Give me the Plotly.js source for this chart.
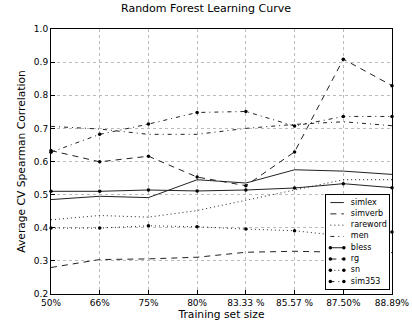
<!DOCTYPE html>
<html>
<head>
<meta charset="utf-8">
<script src="https://cdn.plot.ly/plotly-3.0.1.min.js"></script>
<style>html,body{margin:0;padding:0;background:#fff;}#chart{width:412px;height:328px;}</style>
</head>
<body>
<div id="chart"></div>
<script>
var categories = ["50%", "66%", "75%", "80%", "83.33 %", "85.57 %", "87.50%", "88.89%"];
var simlex   = [0.485, 0.495, 0.491, 0.545, 0.535, 0.575, 0.571, 0.561];
var simverb  = [0.280, 0.304, 0.306, 0.311, 0.326, 0.329, 0.326, 0.325];
var rareword = [0.424, 0.437, 0.432, 0.452, 0.483, 0.513, 0.545, 0.545];
var men      = [0.706, 0.698, 0.682, 0.682, 0.700, 0.712, 0.720, 0.708];
var bless    = [0.510, 0.510, 0.514, 0.511, 0.514, 0.520, 0.533, 0.521];
var rg       = [0.633, 0.599, 0.616, 0.553, 0.527, 0.629, 0.909, 0.829];
var sn       = [0.399, 0.399, 0.406, 0.403, 0.396, 0.391, 0.375, 0.387];
var sim353   = [0.628, 0.682, 0.713, 0.748, 0.751, 0.707, 0.736, 0.736];
var seriesNames = ["simlex", "simverb", "rareword", "men", "bless", "rg", "sn", "sim353"];
var yTicks   = [0.2, 0.3, 0.4, 0.5, 0.6, 0.7, 0.8, 0.9, 1.0];
var yTickText = ["0.2", "0.3", "0.4", "0.5", "0.6", "0.7", "0.8", "0.9", "1.0"];

var DASH = "6px,5px", DOT = "1px,3px", DASHDOT = "4px,4px,1px,4px";
var seriesValues = [simlex, simverb, rareword, men, bless, rg, sn, sim353];
var seriesDash = ["solid", DASH, DOT, DASHDOT, "solid", DASH, DOT, DASHDOT];
var seriesMarkers = [false, false, false, false, true, true, true, true];

var data = [];
seriesNames.forEach(function (name, i) {
  data.push({
    type: "scatter", x: categories, y: seriesValues[i], name: name,
    mode: seriesMarkers[i] ? "lines+markers" : "lines",
    line: {color: "#222", width: 1, dash: seriesDash[i]},
    marker: {color: "#000", size: 3.5},
    showlegend: false, cliponaxis: false
  });
});

// legend drawn as a small inset axes (matplotlib-style key with two sample points)
var keySample = [4.5, 18];
var keyTextX = 25;
seriesNames.forEach(function (name, i) {
  data.push({
    type: "scatter", x: keySample, y: keySample.map(function () { return i; }),
    xaxis: "x2", yaxis: "y2", showlegend: false, hoverinfo: "skip",
    mode: seriesMarkers[i] ? "lines+markers" : "lines",
    line: {color: "#222", width: 1, dash: seriesDash[i]},
    marker: {color: "#000", size: 3.5}
  });
});
data.push({
  type: "scatter", mode: "text", xaxis: "x2", yaxis: "y2", showlegend: false,
  x: seriesNames.map(function () { return keyTextX; }),
  y: seriesNames.map(function (n, i) { return i; }),
  text: seriesNames, textposition: "middle right",
  textfont: {family: "DejaVu Sans", size: 8, color: "#000"}
});

var layout = {
  width: 412, height: 328,
  margin: {l: 51, r: 20, t: 29, b: 34},
  paper_bgcolor: "#fff", plot_bgcolor: "#fff",
  font: {family: "DejaVu Sans", color: "#000", size: 9},
  title: {text: "Random Forest Learning Curve", font: {size: 11, family: "DejaVu Sans"}, x: 0.5, xanchor: "center", y: 0.976, yanchor: "middle"},
  xaxis: {
    type: "category", range: [0, 7],
    showline: true, mirror: true, linecolor: "#000", linewidth: 1,
    ticks: "inside", ticklen: 4, tickcolor: "#000",
    showgrid: true, gridcolor: "#bbb", griddash: "dot", gridwidth: 1,
    tickfont: {size: 9}, zeroline: false,
    title: {text: "Training set size", font: {size: 10.7}, standoff: 3}
  },
  yaxis: {
    range: [0.2, 1.0], tickvals: yTicks, ticktext: yTickText,
    showline: true, mirror: true, linecolor: "#000", linewidth: 1,
    ticks: "inside", ticklen: 4, tickcolor: "#000",
    showgrid: true, gridcolor: "#bbb", griddash: "dot", gridwidth: 1,
    tickfont: {size: 9}, zeroline: false,
    title: {text: "Average CV Spearman Correlation", font: {size: 10.7}, standoff: 6}
  },
  xaxis2: {
    domain: [0.806, 0.991], anchor: "y2", range: [0, 63],
    showline: true, mirror: true, linecolor: "#000", linewidth: 1,
    showgrid: false, zeroline: false, showticklabels: false, ticks: ""
  },
  yaxis2: {
    domain: [0.019, 0.374], anchor: "x2", range: [7.65, -0.68],
    showline: true, mirror: true, linecolor: "#000", linewidth: 1,
    showgrid: false, zeroline: false, showticklabels: false, ticks: ""
  },
  showlegend: false
};
Plotly.newPlot("chart", data, layout, {displayModeBar: false, staticPlot: true});
</script>
</body>
</html>
